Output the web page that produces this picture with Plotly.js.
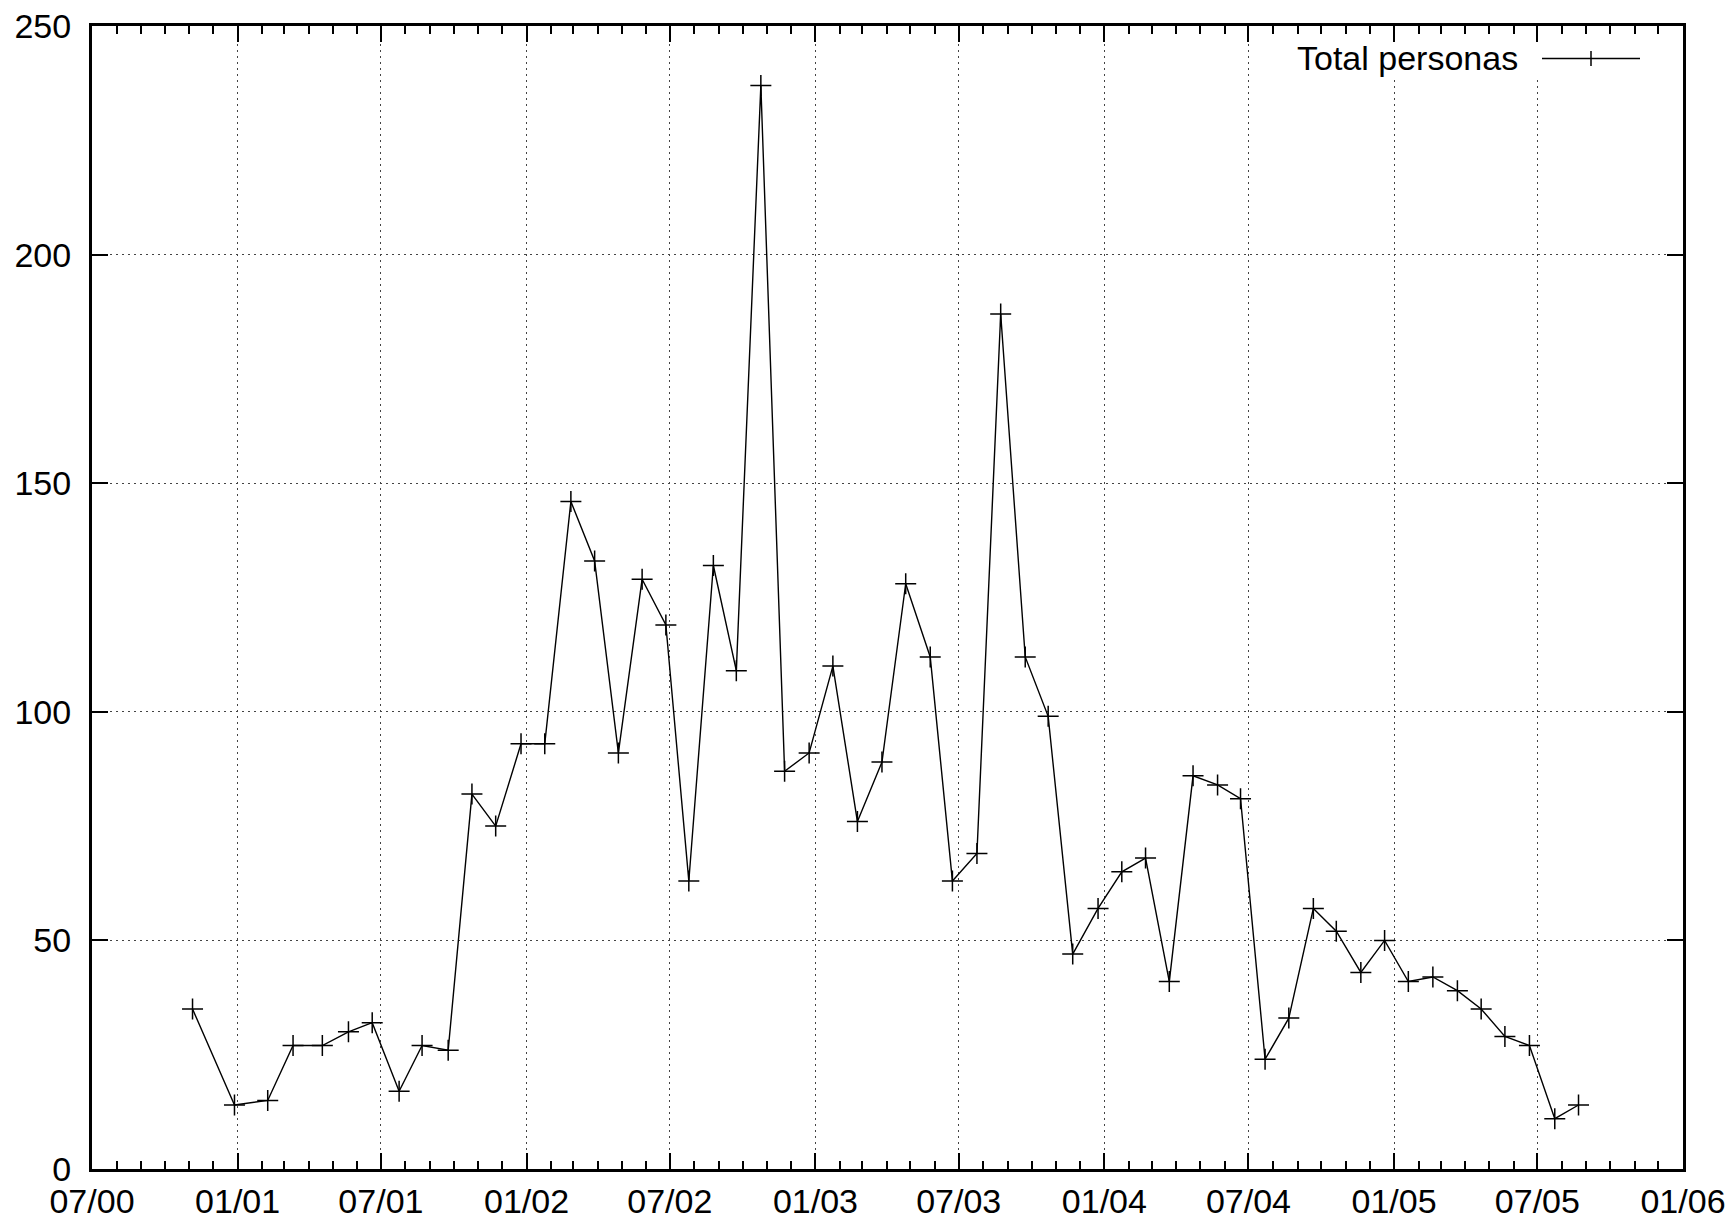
<!DOCTYPE html>
<html>
<head>
<meta charset="utf-8">
<script src="https://cdn.plot.ly/plotly-3.0.1.min.js"></script>
<style>
  html, body { margin: 0; padding: 0; background: #fff; }
  #chart { width: 1731px; height: 1221px; }
</style>
</head>
<body>
<div id="chart"></div>
<script>
var fechas = [
  '2000-11-05','2000-12-28','2001-02-08','2001-03-12','2001-04-18','2001-05-21',
  '2001-06-20','2001-07-24','2001-08-22','2001-09-24','2001-10-24','2001-11-23',
  '2001-12-25','2002-01-24','2002-02-26','2002-03-28','2002-04-27','2002-05-27',
  '2002-06-26','2002-07-25','2002-08-25','2002-09-23','2002-10-24','2002-11-23',
  '2002-12-24','2003-01-23','2003-02-23','2003-03-26','2003-04-25','2003-05-26',
  '2003-06-23','2003-07-24','2003-08-23','2003-09-23','2003-10-22','2003-11-22',
  '2003-12-24','2004-01-23','2004-02-22','2004-03-23','2004-04-22','2004-05-23',
  '2004-06-21','2004-07-22','2004-08-21','2004-09-21','2004-10-20','2004-11-20',
  '2004-12-20','2005-01-19','2005-02-19','2005-03-22','2005-04-21','2005-05-21',
  '2005-06-21','2005-07-23','2005-08-22'
];
// Total personas per observation
var totalPersonas = [
  35, 14, 15, 27, 27, 30,
  32, 17, 27, 26, 82, 75,
  93, 93, 146, 133, 91, 129,
  119, 63, 132, 109, 237, 87,
  91, 110, 76, 89, 128, 112,
  63, 69, 187, 112, 99, 47,
  57, 65, 68, 41, 86, 84,
  81, 24, 33, 57, 52, 43,
  50, 41, 42, 39, 35, 29,
  27, 11, 14
];
var seriesName = 'Total personas';
var xRange = ['2000-07-01', '2006-01-01'];
var yRange = [0, 250];

var W = 1731, H = 1221;
var M = {l: 92, r: 48, t: 26, b: 52};
var PW = W - M.l - M.r, PH = H - M.t - M.b;
function px(x) { return (x - M.l) / PW; }
function py(y) { return (H - M.b - y) / PH; }

var FONT = 'Liberation Sans, Arial, Helvetica, sans-serif';

var trace = {
  x: fechas,
  y: totalPersonas,
  type: 'scatter',
  mode: 'lines+markers',
  name: seriesName,
  line: {color: '#000', width: 1.4},
  marker: {symbol: 'cross-thin-open', size: 15, color: '#000', line: {color: '#000', width: 1.5}},
  showlegend: false,
  hoverinfo: 'x+y'
};

var legY = 58.5;
var layout = {
  width: W, height: H,
  margin: M,
  paper_bgcolor: '#fff',
  plot_bgcolor: '#fff',
  showlegend: false,
  font: {family: FONT, size: 34, color: '#000'},
  xaxis: {
    type: 'date',
    range: xRange,
    tick0: '2000-07-01',
    dtick: 'M6',
    tickformat: '%m/%y',
    ticks: 'inside',
    ticklen: 16,
    tickwidth: 2,
    tickcolor: '#000',
    showline: true,
    linecolor: '#000',
    linewidth: 3,
    mirror: 'allticks',
    showgrid: true,
    gridcolor: '#444',
    gridwidth: 1,
    griddash: '2px,4px',
    zeroline: false,
    tickfont: {family: FONT, size: 34, color: '#000'},
    ticklabelstandoff: 0,
    minor: {dtick: 'M1', ticks: 'inside', ticklen: 8, tickwidth: 2, tickcolor: '#000', showgrid: false}
  },
  yaxis: {
    range: yRange,
    tick0: 0,
    dtick: 50,
    ticks: 'inside',
    ticklen: 16,
    tickwidth: 2,
    tickcolor: '#000',
    showline: true,
    linecolor: '#000',
    linewidth: 3,
    mirror: 'allticks',
    showgrid: true,
    gridcolor: '#444',
    gridwidth: 1,
    griddash: '2px,4px',
    zeroline: false,
    tickfont: {family: FONT, size: 34, color: '#000'},
    ticklabelstandoff: 11
  },
  shapes: [
    {type: 'rect', xref: 'paper', yref: 'paper', layer: 'above',
     x0: px(1275), x1: px(1664), y0: py(78), y1: py(44),
     fillcolor: '#fff', line: {width: 0}},
    {type: 'line', xref: 'paper', yref: 'paper', layer: 'above',
     x0: px(1542), x1: px(1640), y0: py(legY), y1: py(legY),
     line: {color: '#000', width: 1.4}},
    {type: 'line', xref: 'paper', yref: 'paper', layer: 'above',
     x0: px(1591), x1: px(1591), y0: py(legY - 7.5), y1: py(legY + 7.5),
     line: {color: '#000', width: 1.5}}
  ],
  annotations: [
    {xref: 'paper', yref: 'paper', x: px(1520), y: py(legY),
     xanchor: 'right', yanchor: 'middle', showarrow: false,
     text: seriesName, font: {family: FONT, size: 34, color: '#000'}}
  ]
};

Plotly.newPlot('chart', [trace], layout, {staticPlot: true, displayModeBar: false});
</script>
</body>
</html>
